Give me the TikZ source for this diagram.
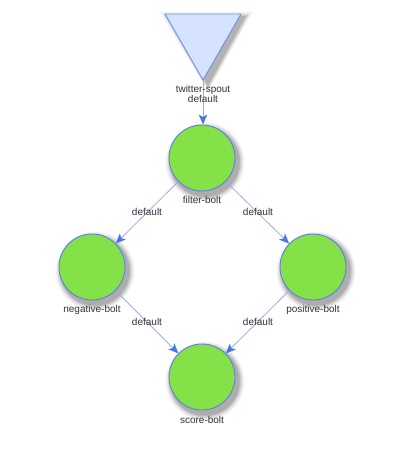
\documentclass[tikz,border=0pt]{standalone}
\usepackage{fontspec}
\setmainfont{Liberation Sans}
\usetikzlibrary{arrows.meta}
\definecolor{boltfill}{HTML}{84E148}
\definecolor{boltdraw}{HTML}{5B7FE3}
\definecolor{spoutfill}{HTML}{D5E3FE}
\definecolor{spoutdraw}{HTML}{6C90E8}
\definecolor{edgecol}{HTML}{96AEF0}
\definecolor{tipcol}{HTML}{4A77E6}
\definecolor{txt}{HTML}{333333}
\tikzset{
  bolt/.style={circle, minimum size=66pt, inner sep=0pt, fill=boltfill, draw=boltdraw, line width=0.9pt},
  lbl/.style={font=\fontsize{10}{11.5}\selectfont, text=txt, inner sep=1pt},
  flow/.style={draw=edgecol, line width=0.8pt, -{Stealth[length=10pt,width=8.5pt,inset=2.5pt,color=tipcol]}}
}
\begin{document}
\begin{tikzpicture}[x=1pt,y=-1pt]
\fill[white] (0,0) rectangle (409,460);
\useasboundingbox (0,0) rectangle (409,460);
% shadows
\foreach \cx/\cy in {202/158,92/267,313/267,202/377} {
  \fill[black!3] (\cx+3,\cy+4) circle[radius=39.5pt];
  \fill[black!7] (\cx+3,\cy+4) circle[radius=38.5pt];
  \fill[black!12] (\cx+3,\cy+4) circle[radius=37.5pt];
  \fill[black!18] (\cx+3,\cy+4) circle[radius=36.5pt];
  \fill[black!25] (\cx+3,\cy+4) circle[radius=35.5pt];
  \fill[black!32] (\cx+3,\cy+4) circle[radius=34.5pt];
}
\fill[black!5] (160,12) -- (252,12) -- (208,92) -- cycle;
\fill[black!12] (163,14) -- (250,14) -- (208,90) -- cycle;
\fill[black!20] (166,15) -- (248,15) -- (208,88) -- cycle;
\fill[black!30] (168,16) -- (246,16) -- (208,86) -- cycle;
% spout
\path[fill=spoutfill, draw=spoutdraw, line width=0.9pt]
  (165,14) -- (241,14) -- (203,80) -- cycle;
\coordinate (spout) at (203,80);
\node[bolt] (filter) at (202,158) {};
\node[bolt] (neg) at (92,267) {};
\node[bolt] (pos) at (313,267) {};
\node[bolt] (score) at (202,377) {};
\draw[flow] (spout) -- (spout |- filter.north);
\draw[flow] (filter) -- (neg);
\draw[flow] (filter) -- (pos);
\draw[flow] (neg) -- (score);
\draw[flow] (pos) -- (score);
\node[lbl, align=center] (spoutlbl) at (203,94) {twitter-spout\\[-1.5pt]default};
\node[lbl] (filterl) at (202,200) {filter-bolt};
\node[lbl] (negl) at (92,310) {negative-bolt};
\node[lbl] (posl) at (313,310) {positive-bolt};
\node[lbl] (scorel) at (202,420) {score-bolt};
\node[lbl] (e1) at (147,212) {default};
\node[lbl] (e2) at (258,212) {default};
\node[lbl] (e3) at (147,322) {default};
\node[lbl] (e4) at (258,322) {default};
\end{tikzpicture}
\end{document}
